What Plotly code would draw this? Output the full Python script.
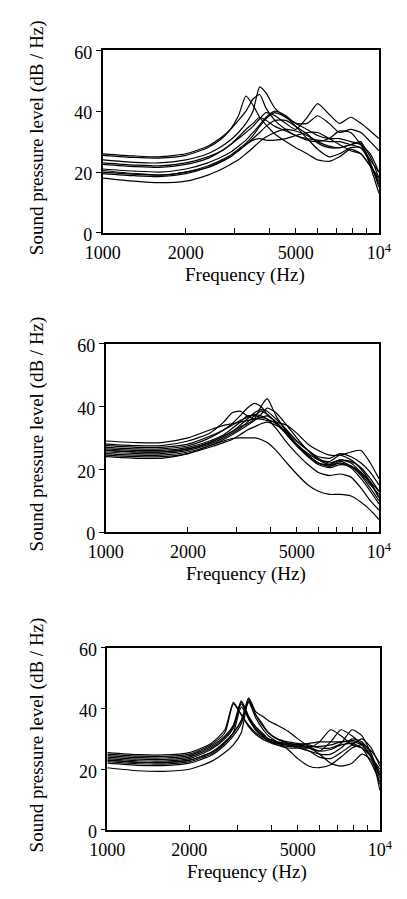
import plotly.graph_objects as go

# Frequency grid (Hz) shared by all curves
FREQ = [1000, 1300, 1600, 2000, 2400, 2700, 2900, 3100, 3300, 3500, 3700, 3900,
        4200, 4600, 5000, 5500, 6000, 6600, 7200, 7900, 8600, 9300, 10000]

# ---- Panel 1 (top) sound pressure levels, dB/Hz ----
P1_C1 = [25.5, 24.8, 24.6, 25.5, 28, 31, 34, 38.5, 45, 42, 38, 35.5, 32.5, 30, 28, 26, 24, 23.5, 25, 27.5, 26, 22, 18]
P1_C2 = [26, 25.3, 25, 26, 28.5, 31.5, 34, 37, 40, 44, 45.5, 41, 37, 34, 32, 31, 30.5, 30, 30, 29, 28, 23, 16]
P1_C3 = [24, 23.2, 23, 24, 26, 28.5, 30.5, 33, 36, 40, 48, 46, 41, 38, 36, 34, 32, 31, 31, 30, 29, 26, 20]
P1_C4 = [23, 22.3, 22, 23, 25, 27, 29, 31, 33, 35, 37.5, 39.5, 38.5, 36, 34, 38, 42.5, 39, 36, 38, 36, 33.5, 31]
P1_C5 = [21, 20.3, 20, 21, 23, 25, 26.5, 28.5, 30.5, 33, 35.5, 38, 40, 38.5, 36, 36, 38.5, 36, 33, 34, 33, 30, 27]
P1_C6 = [22.5, 21.8, 21.5, 22.5, 24.5, 27, 29, 31.5, 34, 36, 38, 37, 35, 33.5, 32, 30.5, 30, 31, 33.5, 33, 29, 24, 20]
P1_C7 = [20, 19.3, 19, 20, 22, 24, 25.5, 27.5, 29.5, 32, 35, 37.5, 39.5, 38, 35, 31, 27.5, 25, 26, 28, 28, 23, 15]
P1_C8 = [19.5, 18.8, 18.5, 19.5, 21.5, 23.5, 25, 27, 29, 31, 33, 35, 37, 37, 35, 32.5, 29.5, 28, 28, 29, 30, 22, 13]
P1_C9 = [18, 17, 16.5, 17, 19, 21, 22.5, 24, 26, 28, 30, 31.5, 33, 34, 33.5, 32, 30, 28.5, 28, 29, 29.5, 25, 18]
P1_C10 = [20.5, 19.5, 19, 20, 21.5, 23.5, 25, 27, 29, 30.5, 31, 30.5, 30.5, 31, 32, 33, 33, 31, 29, 27, 26, 22, 17]

# ---- Panel 2 (middle) ----
P2_C1 = [24, 23.5, 23.5, 25, 27.5, 29, 29.8, 30, 30, 30, 29.5, 28.5, 26, 22, 18.5, 15, 13, 12, 12, 11.5, 9.5, 7, 4]
P2_C2 = [26, 25.5, 25.5, 26.5, 28.5, 30.5, 32, 33.5, 34.5, 36, 40, 42.5, 37, 32, 28, 24.5, 22, 21, 22.5, 21, 18.5, 15, 12]
P2_C3 = [27, 26.5, 26.5, 27.5, 30, 32.5, 34.5, 37, 39.5, 41, 40, 37.5, 35, 31, 27.5, 24.5, 22, 21.5, 23, 22, 19, 16, 13]
P2_C4 = [28, 27.5, 27.5, 29, 31.5, 35, 38, 38.5, 37, 36, 36.5, 37, 35, 31.5, 28, 25, 23, 22.5, 24.5, 23, 20, 16, 11]
P2_C5 = [25, 24.5, 24.5, 25.5, 27.5, 29.5, 31, 32.5, 34, 35.5, 37.5, 39.5, 38, 34, 30, 26, 23.5, 22, 23, 22.5, 20.5, 17, 13]
P2_C6 = [29, 28.5, 28.5, 30, 32.5, 34, 34.5, 35, 35.5, 36, 36, 35.5, 35, 34, 31.5, 28, 26, 24.5, 24.5, 25.5, 26, 22, 17]
P2_C7 = [26.5, 26, 26, 27, 29, 31, 33, 35, 37, 37, 36.5, 36, 34.5, 31, 27.5, 24, 21.5, 20.5, 21.5, 21, 18, 14, 10]
P2_C8 = [25.5, 25, 25, 26, 28, 30, 31.5, 33, 35, 37, 38.5, 37.5, 35, 31.5, 28, 24.5, 22, 21, 22, 20.5, 17, 13, 9]
P2_C9 = [24.5, 24, 24, 25, 27, 28.5, 29.5, 31, 32.5, 33.5, 34.5, 35, 34, 32, 29, 26, 23, 21.5, 22, 21, 19, 15.5, 11]
P2_C10 = [27.5, 27, 27, 28, 30.5, 32.5, 34, 35.5, 36.5, 37.5, 37, 36, 33, 28.5, 25, 21.5, 19, 18, 18.5, 17.5, 14, 10, 7]
P2_C11 = [26, 25.5, 25.5, 26.5, 28.5, 30.5, 32, 34, 36, 38, 39, 38.5, 36, 32.5, 29, 26, 24, 23.5, 25, 24, 22, 19, 15]

# ---- Panel 3 (bottom) ----
P3_C1 = [20.5, 19.5, 19.3, 20, 22.5, 25.5, 28, 32, 43, 38, 34.5, 32, 30, 28.5, 28, 27.5, 27.5, 28, 29, 29, 28, 24, 18]
P3_C2 = [23, 22.3, 22.2, 23, 25.5, 29, 32, 36, 43.5, 39, 37.5, 36, 34.5, 32.5, 30, 27.5, 26, 26.5, 28, 28.5, 27, 22, 16]
P3_C3 = [25, 24.3, 24.2, 25, 28, 32, 41.5, 38, 34, 31.5, 30, 29, 28, 27.5, 27.5, 27, 26, 29, 33, 31, 28, 24, 19]
P3_C4 = [24, 23.3, 23.2, 24, 27, 30.5, 34, 42, 37, 33, 31, 29.5, 28.5, 28, 27.5, 26, 24, 23.5, 25.5, 28, 30, 27, 21]
P3_C5 = [23.5, 22.8, 22.7, 23.5, 26.5, 30, 33.5, 41.5, 36.5, 33, 31, 29.5, 28, 27, 27, 27, 29, 33, 31, 28, 27, 24, 20]
P3_C6 = [22, 21.3, 21.2, 22, 24.5, 28, 31, 35, 42, 37, 33.5, 31, 29, 26.5, 23.5, 21, 20.5, 21.5, 24, 27, 28, 24, 17]
P3_C7 = [24.5, 23.8, 23.7, 24.5, 27.5, 31, 34.5, 42.5, 37.5, 34, 32, 30, 29, 28.5, 28, 27, 25, 22, 21, 22, 25, 23, 15]
P3_C8 = [23, 22.3, 22.2, 23, 25.5, 29, 32, 36, 42.5, 38, 35, 32, 30, 29, 28.5, 28, 27, 27, 28.5, 33, 31, 25, 18]
P3_C9 = [25.5, 24.8, 24.7, 25.5, 28.5, 33, 42, 38, 34.5, 32, 30.5, 29.5, 28.5, 28, 28, 28.5, 29, 29, 29, 29.5, 28.5, 26, 22]
P3_C10 = [22.5, 21.8, 21.7, 22.5, 25, 28.5, 32, 40.5, 37, 33.5, 31.5, 30, 29, 28, 27, 26, 25, 25, 27, 30, 29, 25, 13]

PANEL1 = [P1_C1, P1_C2, P1_C3, P1_C4, P1_C5, P1_C6, P1_C7, P1_C8, P1_C9, P1_C10]
PANEL2 = [P2_C1, P2_C2, P2_C3, P2_C4, P2_C5, P2_C6, P2_C7, P2_C8, P2_C9, P2_C10, P2_C11]
PANEL3 = [P3_C1, P3_C2, P3_C3, P3_C4, P3_C5, P3_C6, P3_C7, P3_C8, P3_C9, P3_C10]

X_TICKVALS = [1000, 2000, 3000, 4000, 5000, 6000, 7000, 8000, 9000, 10000]
X_TICKTEXT = ["1000", "2000", "", "", "5000", "", "", "", "", "10<sup>4</sup>"]
Y_TICKVALS = [0, 20, 40, 60]
Y_TITLE = "Sound pressure level (dB / Hz)"
X_TITLE = "Frequency (Hz)"

W, H = 407, 899
FONT = "Liberation Serif"

# panel geometry in pixels: (left, right, top, bottom)
PANELS = [(91.7, 390.7, 43.3, 230.0), (95.0, 390.7, 343.3, 536.0), (96.7, 391.7, 654.3, 840.7)]

fig = go.Figure()
layout = dict(width=W, height=H, margin=dict(l=0, r=0, t=0, b=0),
              paper_bgcolor="white", plot_bgcolor="white", showlegend=False,
              font=dict(family=FONT, size=18, color="black"))
annotations = []
for i, (data, (l, r, t, b)) in enumerate(zip([PANEL1, PANEL2, PANEL3], PANELS), start=1):
    xa = "x" if i == 1 else f"x{i}"
    ya = "y" if i == 1 else f"y{i}"
    for curve in data:
        fig.add_trace(go.Scatter(x=FREQ, y=curve, mode="lines", xaxis=xa, yaxis=ya,
                                 line=dict(color="black", width=1.2, shape="spline", smoothing=0.6),
                                 hoverinfo="skip"))
    xkey = "xaxis" if i == 1 else f"xaxis{i}"
    ykey = "yaxis" if i == 1 else f"yaxis{i}"
    layout[xkey] = dict(type="log", range=[3, 4], domain=[l / W, r / W], anchor=ya,
                        showgrid=False, zeroline=False, showline=True, mirror=True,
                        linecolor="black", linewidth=1.6,
                        ticks="inside", ticklen=5, tickwidth=1.2, tickcolor="black",
                        tickvals=X_TICKVALS, ticktext=X_TICKTEXT, ticklabelstandoff=3,
                        tickfont=dict(family=FONT, size=18, color="black"))
    layout[ykey] = dict(range=[0, 60], domain=[1 - b / H, 1 - t / H], anchor=xa,
                        showgrid=False, zeroline=False, showline=True, mirror=True,
                        linecolor="black", linewidth=1.6,
                        ticks="outside", ticklen=5, tickwidth=1.2, tickcolor="black",
                        tickvals=Y_TICKVALS, ticklabelstandoff=0, ticklabelshift=2,
                        tickfont=dict(family=FONT, size=18, color="black"))
    annotations.append(dict(text=X_TITLE, xref="paper", yref="paper",
                            x=((l + r) / 2 + 4) / W, y=1 - (b + 43) / H,
                            showarrow=False, font=dict(family=FONT, size=19, color="black"),
                            xanchor="center", yanchor="middle"))
    annotations.append(dict(text=Y_TITLE, xref="paper", yref="paper",
                            x=20 / W, y=1 - ((t + b) / 2 - 4) / H, textangle=-90,
                            showarrow=False, font=dict(family=FONT, size=19, color="black"),
                            xanchor="center", yanchor="middle"))
layout["annotations"] = annotations
fig.update_layout(**layout)
fig.write_html("out.html")
